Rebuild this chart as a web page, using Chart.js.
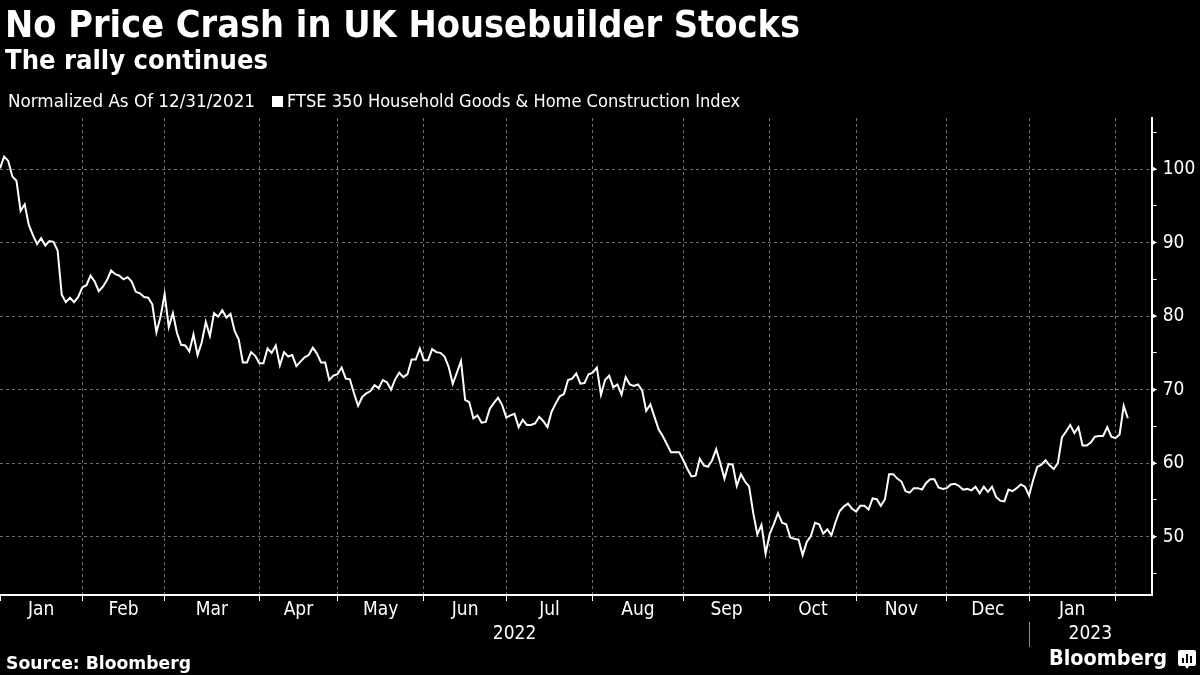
<!DOCTYPE html>
<html>
<head>
<meta charset="utf-8">
<script src="https://cdn.jsdelivr.net/npm/chart.js@4.4.1/dist/chart.umd.min.js"></script>
<style>
  html, body { margin: 0; padding: 0; background: #000; }
  #wrap { position: relative; width: 1200px; height: 675px; overflow: hidden; background: #000; color: #fff;
          font-family: 'DejaVu Sans Condensed', 'DejaVu Sans', sans-serif; }
  #wrap canvas { position: absolute; left: 0; top: 0; }
  .txt { position: absolute; white-space: nowrap; line-height: 1; transform-origin: 0 0; }
  .title { left: 5px; top: 5px; font-size: 38px; font-weight: bold; }
  .subtitle { left: 5px; top: 47px; font-size: 26px; font-weight: bold; }
  .legend { top: 93px; font-size: 17px; }
  .swatch { position: absolute; left: 272px; top: 96px; width: 11px; height: 11px; background: #fff; }
  .source { left: 6px; top: 654px; font-size: 18px; font-weight: bold; }
  .brand { left: 1049px; top: 647px; font-size: 22px; font-weight: bold; }
  .brand-icon { position: absolute; left: 1178px; top: 650px; }
</style>
</head>
<body>
<div id="wrap">
  <canvas id="chart" width="1200" height="675"></canvas>
  <div class="txt title" data-w="795">No Price Crash in UK Housebuilder Stocks</div>
  <div class="txt subtitle" data-w="263">The rally continues</div>
  <div class="txt legend" style="left:8px" data-w="247">Normalized As Of 12/31/2021</div>
  <div class="swatch"></div>
  <div class="txt legend" style="left:287px" data-w="453">FTSE 350 Household Goods &amp; Home Construction Index</div>
  <div class="txt source" data-w="185">Source: Bloomberg</div>
  <div class="txt brand" data-w="118">Bloomberg</div>
  <svg class="brand-icon" width="18" height="20" viewBox="0 0 18 20">
    <path d="M2 0h14a2 2 0 0 1 2 2v12a2 2 0 0 1-2 2h-5l-2 3-2-3H2a2 2 0 0 1-2-2V2a2 2 0 0 1 2-2z" fill="#fff"/>
    <rect x="4" y="8" width="2" height="5" fill="#000"/>
    <rect x="8" y="4" width="2" height="9" fill="#000"/>
    <rect x="12" y="6" width="2" height="7" fill="#000"/>
  </svg>
</div>
<script>
// month axis: trading-day index where each month begins (index 0 = 4 Jan 2022)
const monthLabels = ['Jan', 'Feb', 'Mar', 'Apr', 'May', 'Jun', 'Jul', 'Aug', 'Sep', 'Oct', 'Nov', 'Dec', 'Jan'];
const monthStarts = [0, 20, 40, 63, 82, 103, 123, 144, 166, 187, 208, 230, 250, 271];
const yearLabels = ['2022', '2023'];
const yearStarts = [0, 250];
const yTickValues = [45, 50, 55, 60, 65, 70, 75, 80, 85, 90, 95, 100, 105];

// FTSE 350 Household Goods & Home Construction, normalized to 100 at 12/31/2021
const indexValues = [
  100.1, 101.7, 101.1, 99.0, 98.4, 94.3, 95.2, 92.4, 91.0, 89.8,
  90.6, 89.6, 90.2, 90.1, 88.9, 82.9, 81.9, 82.5, 81.9, 82.6,
  83.9, 84.2, 85.5, 84.7, 83.4, 84.0, 84.9, 86.2, 85.7, 85.5,
  85.0, 85.3, 84.7, 83.3, 83.1, 82.6, 82.5, 81.6, 77.8, 79.9,
  83.0, 78.5, 80.4, 77.7, 76.1, 76.0, 75.2, 77.5, 74.7, 76.4,
  79.2, 77.3, 80.4, 79.9, 80.8, 79.8, 80.3, 78.0, 76.8, 73.7,
  73.7, 75.1, 74.6, 73.6, 73.6, 75.6, 75.0, 76.0, 73.3, 75.1,
  74.5, 74.7, 73.2, 73.8, 74.4, 74.7, 75.7, 74.9, 73.7, 73.7,
  71.3, 71.9, 72.1, 73.0, 71.5, 71.4, 69.5, 67.8, 69.0, 69.5,
  69.8, 70.6, 70.2, 71.3, 71.0, 70.0, 71.4, 72.3, 71.7, 72.1,
  74.1, 74.1, 75.6, 74.0, 74.0, 75.5, 75.1, 75.0, 74.5, 73.1,
  70.8, 72.3, 73.9, 68.6, 68.3, 66.1, 66.5, 65.5, 65.6, 67.4,
  68.2, 68.9, 67.9, 66.2, 66.5, 66.7, 64.9, 65.9, 65.2, 65.2,
  65.4, 66.3, 65.7, 64.9, 67.0, 68.1, 69.1, 69.4, 71.3, 71.5,
  72.2, 70.8, 70.9, 72.1, 72.3, 73.0, 69.3, 71.3, 71.9, 70.3,
  70.7, 69.3, 71.7, 70.7, 70.5, 70.7, 69.9, 67.1, 68.0, 66.3,
  64.6, 63.7, 62.6, 61.5, 61.5, 61.5, 60.4, 59.2, 58.2, 58.3,
  60.6, 59.7, 59.5, 60.4, 61.9, 60.0, 57.9, 59.9, 59.8, 56.9,
  58.5, 57.5, 56.8, 53.2, 50.3, 51.6, 47.7, 50.4, 51.7, 53.2,
  51.9, 51.7, 49.9, 49.7, 49.6, 47.5, 49.3, 50.1, 51.9, 51.7,
  50.4, 51.0, 50.2, 52.0, 53.5, 54.1, 54.5, 53.8, 53.4, 54.2,
  54.2, 53.7, 55.2, 55.1, 54.2, 55.1, 58.5, 58.5, 57.9, 57.5,
  56.2, 56.0, 56.6, 56.6, 56.4, 57.3, 57.8, 57.8, 56.7, 56.5,
  56.6, 57.1, 57.2, 56.9, 56.4, 56.5, 56.3, 56.8, 55.9, 56.8,
  56.1, 56.8, 55.4, 54.9, 54.8, 56.4, 56.2, 56.6, 57.1, 56.8,
  55.6, 57.7, 59.5, 59.8, 60.4, 59.7, 59.2, 60.0, 63.5, 64.3,
  65.2, 64.1, 64.9, 62.4, 62.4, 62.8, 63.6, 63.7, 63.7, 64.9,
  63.6, 63.4, 63.9, 67.8, 66.1
];

// squeeze each text block to the width it has in the original
document.querySelectorAll('[data-w]').forEach(el => {
  const w = el.getBoundingClientRect().width;
  el.style.transform = 'scaleX(' + (Number(el.dataset.w) / w) + ')';
});

const FONT = "'DejaVu Sans Condensed', 'DejaVu Sans', sans-serif";
const GRID = '#6e6e6e';

// month / year labels under the axis and the arrow heads on the value axis
const axisText = {
  id: 'axisText',
  afterDraw(chart) {
    const { ctx, chartArea, scales: { x, y } } = chart;
    ctx.save();
    ctx.fillStyle = '#fff';
    ctx.font = '19px ' + FONT;
    ctx.textAlign = 'center';
    ctx.textBaseline = 'middle';
    monthLabels.forEach((m, k) => {
      const mid = (monthStarts[k] + monthStarts[k + 1]) / 2;
      ctx.fillText(m, x.getPixelForValue(mid), chartArea.bottom + 15);
    });
    yearLabels.forEach((yr, k) => {
      const end = k + 1 < yearStarts.length ? yearStarts[k + 1] : x.max;
      ctx.fillText(yr, x.getPixelForValue((yearStarts[k] + end) / 2), chartArea.bottom + 39);
    });
    ctx.strokeStyle = '#8a8a8a';
    ctx.lineWidth = 1;
    yearStarts.slice(1).forEach(v => {
      const px = Math.round(x.getPixelForValue(v)) + 0.5;
      ctx.beginPath();
      ctx.moveTo(px, chartArea.bottom + 27);
      ctx.lineTo(px, chartArea.bottom + 52);
      ctx.stroke();
    });
    yTickValues.filter(v => v % 10 === 0).forEach(v => {
      const py = y.getPixelForValue(v);
      ctx.beginPath();
      ctx.moveTo(chartArea.right, py - 3);
      ctx.lineTo(chartArea.right + 5, py);
      ctx.lineTo(chartArea.right, py + 3);
      ctx.closePath();
      ctx.fill();
    });
    ctx.restore();
  }
};

new Chart(document.getElementById('chart'), {
  type: 'line',
  data: {
    datasets: [{
      label: 'FTSE 350 Household Goods & Home Construction Index',
      data: indexValues.map((v, i) => ({ x: i, y: v })),
      borderColor: '#ffffff',
      borderWidth: 2,
      pointRadius: 0,
      tension: 0
    }]
  },
  options: {
    responsive: false,
    animation: false,
    layout: { padding: { top: 118, left: 0, right: 0, bottom: 0 } },
    plugins: {
      legend: { display: false },
      tooltip: { enabled: false }
    },
    scales: {
      x: {
        type: 'linear',
        position: 'bottom',
        min: 0,
        max: 279.8,
        afterBuildTicks: (scale) => { scale.ticks = monthStarts.map(v => ({ value: v })); },
        afterFit: (scale) => { scale.height = 80; },
        ticks: { display: false },
        grid: {
          color: (c) => (c.tick && c.tick.value === 0 ? 'transparent' : GRID),
          lineWidth: 1,
          tickColor: '#ffffff',
          tickLength: 6,
          tickWidth: 1
        },
        border: { display: true, color: '#ffffff', width: 2, dash: [3, 3] }
      },
      y: {
        type: 'linear',
        position: 'right',
        min: 42.07,
        max: 106.94,
        afterBuildTicks: (scale) => { scale.ticks = yTickValues.map(v => ({ value: v })); },
        afterFit: (scale) => { scale.width = 48.3; },
        ticks: {
          color: '#ffffff',
          font: { family: FONT, size: 19 },
          padding: 6,
          callback: (v) => (v % 10 === 0 ? String(v) : '')
        },
        grid: {
          color: (c) => (c.tick && c.tick.value % 10 === 0 ? GRID : 'transparent'),
          lineWidth: 1,
          tickColor: '#ffffff',
          tickLength: 5,
          tickWidth: 1
        },
        border: { display: true, color: '#ffffff', width: 2, dash: [3, 3] }
      }
    }
  },
  plugins: [axisText]
});
</script>
</body>
</html>
